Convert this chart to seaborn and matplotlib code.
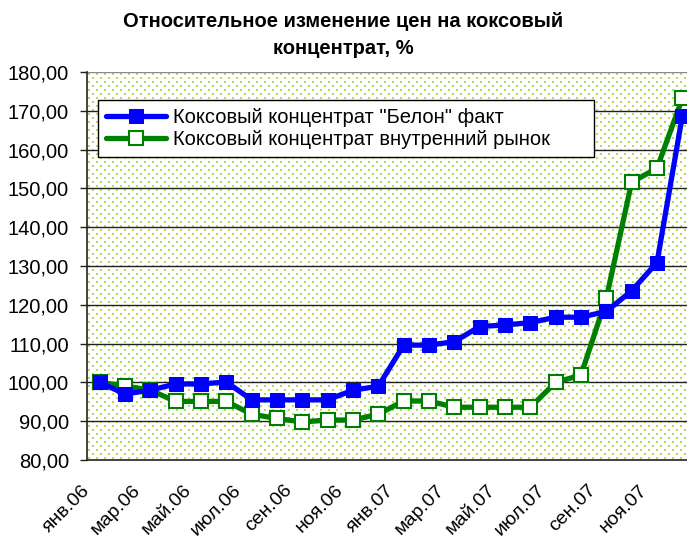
import matplotlib
matplotlib.use("Agg")
import matplotlib.pyplot as plt
import matplotlib.ticker as mticker
import numpy as np
import seaborn as sns
import pandas as pd

months = ["янв.06", "фев.06", "мар.06", "апр.06", "май.06", "июн.06",
          "июл.06", "авг.06", "сен.06", "окт.06", "ноя.06", "дек.06",
          "янв.07", "фев.07", "мар.07", "апр.07", "май.07", "июн.07",
          "июл.07", "авг.07", "сен.07", "окт.07", "ноя.07", "дек.07"]
belon = [100.0, 97.0, 98.0, 99.6, 99.6, 100.1, 95.5, 95.5, 95.5, 95.5, 98.0, 99.0,
         109.6, 109.6, 110.5, 114.4, 114.8, 115.4, 116.8, 116.8, 118.3, 123.6, 130.9, 168.7]
domestic = [100.0, 99.1, 98.0, 95.1, 95.1, 95.1, 91.8, 90.7, 89.8, 90.3, 90.3, 91.8,
            95.2, 95.2, 93.6, 93.6, 93.6, 93.6, 100.0, 101.9, 121.7, 151.6, 155.2, 173.2]
series_names = ['Коксовый концентрат "Белон" факт',
                "Коксовый концентрат внутренний рынок"]

sns.set_theme(style="white")
plt.rcParams["font.family"] = ["Liberation Sans", "DejaVu Sans"]
plt.rcParams["text.color"] = "black"
plt.rcParams["xtick.color"] = "black"
plt.rcParams["ytick.color"] = "black"

df = pd.DataFrame({"pos": range(len(months)), "belon": belon, "domestic": domestic})

fig = plt.figure(figsize=(6.87, 5.38), dpi=100)
ax = fig.add_axes([87 / 687, 78 / 538, 608 / 687, 388 / 538])

# Excel-like "5% dots" fill: staggered light green dots on white
h, w = 388, 608
tex = np.ones((h, w, 3))
dot = np.array([0.72, 0.86, 0.35])
for r in range(1, h, 4):
    off = 0 if (r // 4) % 2 == 0 else 4
    for c in range(off + 1, w, 8):
        tex[r:r + 2, c:c + 2] = dot
ax.imshow(tex, extent=(-0.5, len(months) - 0.5, 80, 180), aspect="auto",
          interpolation="nearest", zorder=0)

sns.lineplot(data=df, x="pos", y="belon", ax=ax, color="#0000FF", linewidth=3.8,
             marker="s", markersize=10, markerfacecolor="#0000FF",
             markeredgecolor="#0000FF", label=series_names[0], zorder=4)
sns.lineplot(data=df, x="pos", y="domestic", ax=ax, color="#008000", linewidth=3.8,
             marker="s", markersize=10, markerfacecolor="white",
             markeredgecolor="#008000", markeredgewidth=1.5,
             label=series_names[1], zorder=3)

ax.set_xlim(-0.5, len(months) - 0.5)
ax.set_ylim(80, 180)
ax.set_yticks(range(80, 181, 10))
ax.yaxis.set_major_formatter(mticker.FuncFormatter(lambda v, p: f"{v:.2f}".replace(".", ",")))
for y in range(90, 181, 10):
    ax.axhline(y, color="#222222" if y < 180 else "#888888", linewidth=1, zorder=1)

ax.set_xticks([i - 0.5 for i in range(0, len(months), 2)])
ax.set_xticklabels(months[::2], rotation=45, ha="right", va="center",
                   rotation_mode="anchor", fontsize=14)
ax.tick_params(axis="x", direction="out", length=5, width=1, color="#222222", pad=15)
ax.tick_params(axis="y", direction="out", length=5, width=1, color="#222222",
               labelsize=14.5, pad=8, left=True)
ax.set_xlabel("")
ax.set_ylabel("")
for s in ["top", "right"]:
    ax.spines[s].set_visible(False)
for s in ["left", "bottom"]:
    ax.spines[s].set_color("#222222")
    ax.spines[s].set_linewidth(1.2)

leg = ax.legend(loc="upper left",
                bbox_to_anchor=(98 / 687, 1 - 158 / 538, 496 / 687, 58 / 538),
                bbox_transform=fig.transFigure, mode="expand", fontsize=14.5,
                frameon=True, fancybox=False, framealpha=1, edgecolor="black",
                handlelength=3.0, handletextpad=0.3, borderpad=0.4,
                labelspacing=0.15, borderaxespad=0)
leg.get_frame().set_linewidth(1)

fig.text(0.5, 1 - 12 / 538, "Относительное изменение цен на коксовый\nконцентрат, %",
         ha="center", va="top", fontsize=14.5, fontweight="bold", linespacing=1.55)

fig.savefig("out.png", dpi=100)
